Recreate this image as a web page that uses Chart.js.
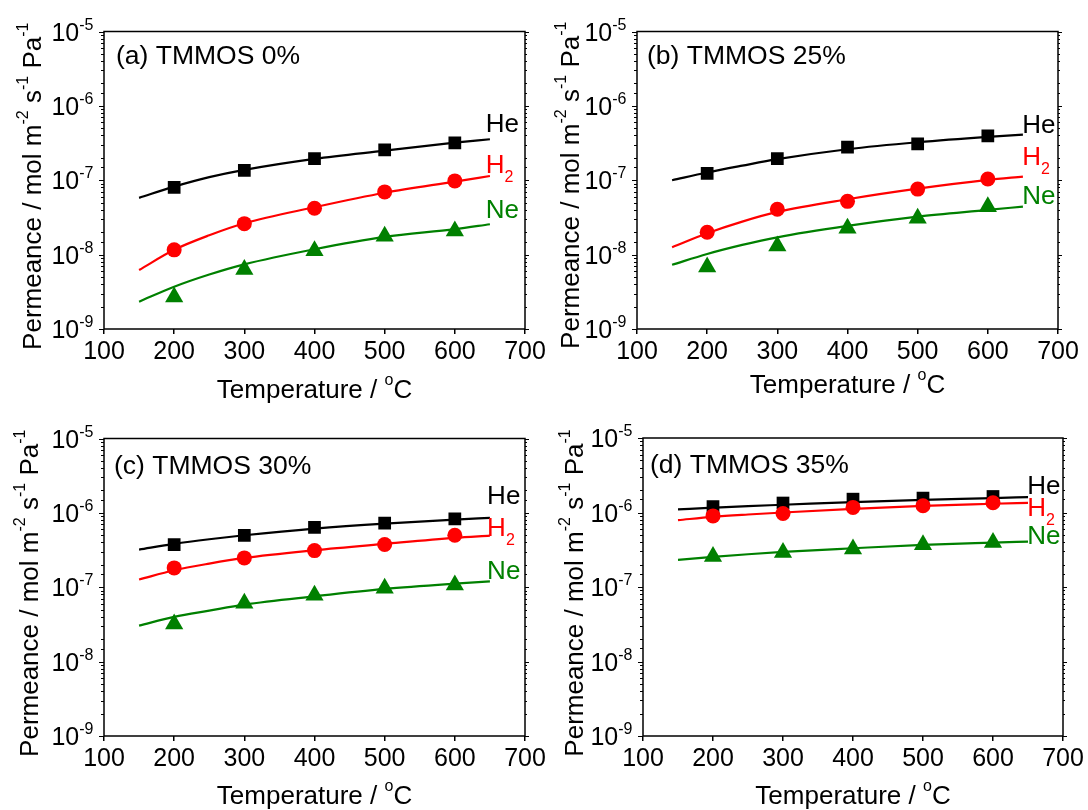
<!DOCTYPE html>
<html>
<head>
<meta charset="utf-8">
<script src="https://cdn.jsdelivr.net/npm/chart.js@4.4.0/dist/chart.umd.min.js"></script>
<style>
    html, body { margin: 0; padding: 0; background: #fff; }
    #wrap { position: relative; width: 1088px; height: 810px; overflow: hidden; }
    .panel { position: absolute; height: 405px; }
</style>
</head>
<body>
<div id="wrap">
    <div class="panel" style="left:0;top:0;width:560px"><canvas id="chartA" width="560" height="405"></canvas></div>
    <div class="panel" style="left:544px;top:0;width:544px"><canvas id="chartB" width="544" height="405"></canvas></div>
    <div class="panel" style="left:0;top:405px;width:560px"><canvas id="chartC" width="560" height="405"></canvas></div>
    <div class="panel" style="left:544px;top:405px;width:544px"><canvas id="chartD" width="544" height="405"></canvas></div>
</div>
<script>
const FONT = "'Liberation Sans', Arial, Helvetica, sans-serif";
const HE_COLOR = '#000000';
const H2_COLOR = '#ff0000';
const NE_COLOR = '#008000';

const temps = [200, 300, 400, 500, 600];
const fitTemps = [150, 200, 250, 300, 400, 500, 600, 650];

// (a) TMMOS 0%
const heA = [8.0e-8, 1.36e-7, 1.95e-7, 2.56e-7, 3.18e-7];
const h2A = [1.16e-8, 2.61e-8, 4.2e-8, 6.97e-8, 9.8e-8];
const neA = [2.7e-9, 6.3e-9, 1.13e-8, 1.77e-8, 2.08e-8];
const heFitA = [5.8e-8, 8.2e-8, 1.1e-7, 1.38e-7, 1.94e-7, 2.5e-7, 3.2e-7, 3.56e-7];
const h2FitA = [6.2e-9, 1.16e-8, 1.82e-8, 2.64e-8, 4.34e-8, 6.8e-8, 9.6e-8, 1.14e-7];
const neFitA = [2.33e-9, 3.7e-9, 5.4e-9, 7.4e-9, 1.18e-8, 1.73e-8, 2.2e-8, 2.56e-8];

// (b) TMMOS 25%
const heB = [1.24e-7, 1.95e-7, 2.78e-7, 3.08e-7, 3.95e-7];
const h2B = [2.0e-8, 4.07e-8, 5.2e-8, 7.6e-8, 1.04e-7];
const neB = [6.8e-9, 1.31e-8, 2.26e-8, 3.09e-8, 4.4e-8];
const heFitB = [1.0e-7, 1.27e-7, 1.57e-7, 1.92e-7, 2.61e-7, 3.24e-7, 3.83e-7, 4.1e-7];
const h2FitB = [1.26e-8, 1.94e-8, 2.78e-8, 3.75e-8, 5.55e-8, 7.7e-8, 1.01e-7, 1.12e-7];
const neFitB = [7.3e-9, 1.02e-8, 1.35e-8, 1.71e-8, 2.43e-8, 3.24e-8, 3.99e-8, 4.43e-8];

// (c) TMMOS 30%
const heC = [3.75e-7, 5.0e-7, 6.4e-7, 7.3e-7, 8.3e-7];
const h2C = [1.82e-7, 2.48e-7, 3.11e-7, 3.75e-7, 5.0e-7];
const neC = [3.21e-8, 6.1e-8, 7.83e-8, 9.7e-8, 1.07e-7];
const heFitC = [3.21e-7, 3.83e-7, 4.42e-7, 5.0e-7, 6.15e-7, 7.19e-7, 8.13e-7, 8.57e-7];
const h2FitC = [1.27e-7, 1.69e-7, 2.08e-7, 2.48e-7, 3.15e-7, 3.83e-7, 4.61e-7, 4.95e-7];
const neFitC = [3.05e-8, 3.99e-8, 4.85e-8, 5.85e-8, 7.56e-8, 9.5e-8, 1.12e-7, 1.2e-7];

// (d) TMMOS 35%
const heD = [1.2e-6, 1.34e-6, 1.51e-6, 1.56e-6, 1.64e-6];
const h2D = [9.0e-7, 9.7e-7, 1.17e-6, 1.23e-6, 1.35e-6];
const neD = [2.56e-7, 2.9e-7, 3.24e-7, 3.68e-7, 3.96e-7];
const heFitD = [1.1e-6, 1.16e-6, 1.22e-6, 1.27e-6, 1.38e-6, 1.48e-6, 1.56e-6, 1.61e-6];
const h2FitD = [7.9e-7, 8.75e-7, 9.4e-7, 1.0e-6, 1.12e-6, 1.23e-6, 1.31e-6, 1.35e-6];
const neFitD = [2.31e-7, 2.53e-7, 2.75e-7, 2.96e-7, 3.31e-7, 3.67e-7, 3.94e-7, 4.07e-7];

const xTicks = { min: 100, max: 700, step: 100 };
const yRange = { min: 1e-9, max: 1e-5 };

function toPoints(xs, ys) {
    return xs.map((x, i) => ({ x: x, y: ys[i] }));
}

function markerSet(values, color, style, radius) {
    return {
        data: toPoints(temps, values),
        showLine: false,
        pointStyle: style,
        pointRadius: radius,
        pointBackgroundColor: color,
        pointBorderWidth: 0,
        pointHoverRadius: radius
    };
}

function fitSet(values, color) {
    return {
        data: toPoints(fitTemps, values),
        showLine: true,
        borderColor: color,
        borderWidth: 2.2,
        pointRadius: 0,
        tension: 0.4,
        cubicInterpolationMode: 'monotone'
    };
}

// draws a row of text pieces, some raised or lowered, starting at x
function drawRuns(ctx, runs, x, y) {
    let cx = x;
    runs.forEach(r => {
        ctx.font = r.size + 'px ' + FONT;
        ctx.fillText(r.text, cx, y + (r.dy || 0));
        cx += ctx.measureText(r.text).width;
    });
}

function runsWidth(ctx, runs) {
    let w = 0;
    runs.forEach(r => {
        ctx.font = r.size + 'px ' + FONT;
        w += ctx.measureText(r.text).width;
    });
    return w;
}

const yTitleRuns = [
    { text: 'Permeance / mol m', size: 26 },
    { text: '-2', size: 16, dy: -13 },
    { text: ' s', size: 26 },
    { text: '-1', size: 16, dy: -13 },
    { text: ' Pa', size: 26 },
    { text: '-1', size: 16, dy: -13 }
];
const xTitleRuns = [
    { text: 'Temperature / ', size: 26 },
    { text: 'o', size: 16, dy: -13 },
    { text: 'C', size: 26 }
];

function makeDecor(decor) {
    return {
        id: 'decor',
        afterDraw(chart) {
            const { ctx, chartArea: a } = chart;
            const x = chart.scales.x;
            const y = chart.scales.y;
            ctx.save();
            ctx.fillStyle = '#000';
            ctx.strokeStyle = '#000';

            // frame
            ctx.lineWidth = 1.5;
            ctx.strokeRect(a.left, a.top, a.right - a.left, a.bottom - a.top);

            // log ticks, left and right
            ctx.lineWidth = 1;
            ctx.textBaseline = 'alphabetic';
            y.ticks.forEach(t => {
                const e = Math.log10(t.value);
                const major = Math.abs(e - Math.round(e)) < 1e-6;
                const py = Math.round(y.getPixelForValue(t.value)) + 0.5;
                const lenL = major ? 5 : 3;
                const lenR = major ? 4 : 2;
                ctx.beginPath();
                ctx.moveTo(a.left - lenL, py);
                ctx.lineTo(a.left, py);
                ctx.moveTo(a.right, py);
                ctx.lineTo(a.right + lenR, py);
                ctx.stroke();
                if (major) {
                    const exp = String(Math.round(e));
                    ctx.textAlign = 'right';
                    ctx.font = '16px ' + FONT;
                    const right = a.left - 10.5;
                    ctx.fillText(exp, right, py - 2.5);
                    const supW = ctx.measureText(exp).width;
                    ctx.font = '25px ' + FONT;
                    ctx.fillText('10', right - supW, py + 8.5);
                }
            });

            ctx.textAlign = 'left';
            // panel title
            ctx.font = '26.5px ' + FONT;
            ctx.fillText(decor.title, a.left + decor.titleDx, a.top + decor.titleDy);

            // gas labels
            decor.labels.forEach(l => {
                const px = x.getPixelForValue(l.x);
                const py = y.getPixelForValue(l.y);
                ctx.fillStyle = l.color;
                const runs = [{ text: l.text, size: 26 }];
                if (l.sub) runs.push({ text: l.sub, size: 16, dy: 9 });
                drawRuns(ctx, runs, px, py);
            });

            // axis titles
            ctx.fillStyle = '#000';
            const xw = runsWidth(ctx, xTitleRuns);
            drawRuns(ctx, xTitleRuns, (a.left + a.right) / 2 - xw / 2, a.bottom + decor.xTitleDy);

            const yw = runsWidth(ctx, yTitleRuns);
            ctx.translate(a.left - decor.yTitleDx, (a.top + a.bottom) / 2 + decor.yTitleShift);
            ctx.rotate(-Math.PI / 2);
            drawRuns(ctx, yTitleRuns, -yw / 2, 0);
            ctx.restore();
        }
    };
}

function setupPanel(canvasId, series, area, decor) {
    const canvas = document.getElementById(canvasId);
    const ctx = canvas.getContext('2d');
    return new Chart(ctx, {
        type: 'scatter',
        data: {
            datasets: [
                markerSet(series.ne, NE_COLOR, 'triangle', 10.5),
                fitSet(series.neFit, NE_COLOR),
                markerSet(series.h2, H2_COLOR, 'circle', 7.5),
                fitSet(series.h2Fit, H2_COLOR),
                markerSet(series.he, HE_COLOR, 'rect', 9),
                fitSet(series.heFit, HE_COLOR)
            ]
        },
        options: {
            responsive: false,
            animation: false,
            events: [],
            layout: { padding: { left: 0, top: area.top, right: canvas.width - area.right, bottom: 0 } },
            plugins: {
                legend: { display: false },
                tooltip: { enabled: false }
            },
            scales: {
                x: {
                    type: 'linear',
                    min: xTicks.min,
                    max: xTicks.max,
                    ticks: {
                        stepSize: xTicks.step,
                        autoSkip: false,
                        maxRotation: 0,
                        color: '#000',
                        padding: 3,
                        font: { family: FONT, size: 25 }
                    },
                    grid: { drawOnChartArea: false, tickLength: 5, color: '#000', lineWidth: 1.5 },
                    border: { display: false },
                    afterFit: function (scale) {
                        scale.height = 405 - area.bottom;
                        scale.paddingLeft = 0;
                        scale.paddingRight = 0;
                    }
                },
                y: {
                    type: 'logarithmic',
                    min: yRange.min,
                    max: yRange.max,
                    ticks: { display: false },
                    grid: { display: false },
                    border: { display: false },
                    afterFit: function (scale) {
                        scale.width = area.left;
                        scale.paddingTop = 0;
                        scale.paddingBottom = 0;
                    }
                }
            }
        },
        plugins: [makeDecor(decor)]
    });
}

function gasLabels(lx, heY, h2Y, neY) {
    return [
        { text: 'He', color: HE_COLOR, x: lx, y: heY },
        { text: 'H', sub: '2', color: H2_COLOR, x: lx, y: h2Y },
        { text: 'Ne', color: NE_COLOR, x: lx, y: neY }
    ];
}

setupPanel('chartA',
    { he: heA, h2: h2A, ne: neA, heFit: heFitA, h2Fit: h2FitA, neFit: neFitA },
    { left: 104, top: 31.5, right: 525, bottom: 329 },
    { title: '(a) TMMOS 0%', titleDx: 12, titleDy: 32.5, xTitleDy: 69, yTitleDx: 63, yTitleShift: 6,
      labels: gasLabels(644, 4.5e-7, 1.26e-7, 3.08e-8) });

setupPanel('chartB',
    { he: heB, h2: h2B, ne: neB, heFit: heFitB, h2Fit: h2FitB, neFit: neFitB },
    { left: 93, top: 31.5, right: 514, bottom: 329 },
    { title: '(b) TMMOS 25%', titleDx: 10, titleDy: 32.5, xTitleDy: 64, yTitleDx: 58, yTitleShift: 5,
      labels: gasLabels(649, 4.36e-7, 1.61e-7, 4.8e-8) });

setupPanel('chartC',
    { he: heC, h2: h2C, ne: neC, heFit: heFitC, h2Fit: h2FitC, neFit: neFitC },
    { left: 104, top: 33.5, right: 525, bottom: 331 },
    { title: '(c) TMMOS 30%', titleDx: 10, titleDy: 35, xTitleDy: 68, yTitleDx: 66, yTitleShift: 6,
      labels: gasLabels(646, 1.32e-6, 4.94e-7, 1.30e-7) });

setupPanel('chartD',
    { he: heD, h2: h2D, ne: neD, heFit: heFitD, h2Fit: h2FitD, neFit: neFitD },
    { left: 99, top: 33, right: 519, bottom: 331 },
    { title: '(d) TMMOS 35%', titleDx: 7, titleDy: 35, xTitleDy: 68, yTitleDx: 60, yTitleShift: 6,
      labels: gasLabels(649, 1.79e-6, 9.06e-7, 3.74e-7) });
</script>
</body>
</html>
